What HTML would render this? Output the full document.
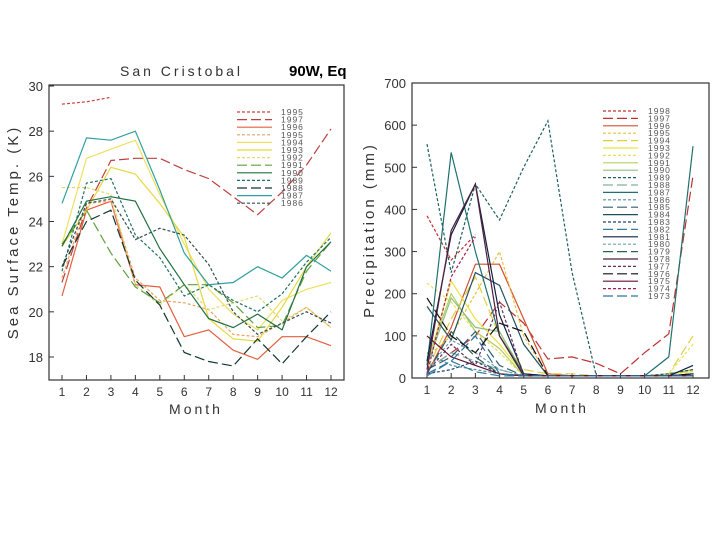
<!DOCTYPE html>
<html><head><meta charset="utf-8"><style>
html,body{margin:0;padding:0;background:#fff;width:720px;height:540px;overflow:hidden}
svg{display:block}
text{font-family:"Liberation Sans",sans-serif}
</style></head><body>
<svg id="s" width="720" height="540" xmlns="http://www.w3.org/2000/svg">
<text x="120" y="76" font-size="14" fill="#333" letter-spacing="3">San Cristobal</text>
<text x="289" y="76" font-size="15" font-weight="bold" fill="#000">90W, Eq</text>
<text transform="translate(18,232) rotate(-90)" text-anchor="middle" font-size="15" fill="#333" letter-spacing="3">Sea Surface Temp. (K)</text>
<text x="196" y="414" text-anchor="middle" font-size="14" fill="#333" letter-spacing="3">Month</text>
<text transform="translate(374,230) rotate(-90)" text-anchor="middle" font-size="15" fill="#333" letter-spacing="3">Precipitation (mm)</text>
<text x="562" y="413" text-anchor="middle" font-size="14" fill="#333" letter-spacing="3">Month</text>
</svg>
<script>
const months=[1,2,3,4,5,6,7,8,9,10,11,12];
const sstTicks=[18,20,22,24,26,28,30];
const prTicks=[0,100,200,300,400,500,600,700];
const sstYears=["1995","1997","1996","1995","1994","1993","1992","1991","1990","1989","1988","1987","1986"];
const sstColors=["#d04040","#c04040","#e06040","#f0a060","#f0e060","#e8d840","#e0d870","#60a040","#207040","#207060","#103830","#30a0a0","#305050"];
const sstDash=["3,2","10,4","","3,2","","","3,2","10,4","","3,2","10,4","","3,2"];
const sstValues=[
[29.2,29.3,29.5,null,null,null,null,null,null,null,null,null],
[21.3,24.6,26.7,26.8,26.8,26.3,25.9,25.1,24.3,25.3,26.5,28.1],
[20.7,24.5,24.9,21.2,21.1,18.9,19.2,18.3,17.9,18.9,18.9,18.5],
[21.5,24.8,24.9,21.5,20.5,20.4,20.1,19.0,18.9,19.5,20.2,19.3],
[23.0,26.8,27.2,27.6,25.2,23.0,21.0,19.9,19.2,20.5,21.0,21.3],
[22.9,24.5,26.4,26.1,24.8,23.3,19.7,18.8,18.7,20.2,22.0,23.5],
[25.5,25.5,25.2,21.2,20.3,21.2,20.1,20.4,20.7,19.6,20.2,19.3],
[23.0,24.5,22.6,21.1,20.4,21.2,21.2,20.4,19.3,19.4,21.8,23.1],
[22.9,24.9,25.1,24.9,22.8,21.2,19.7,19.3,19.9,19.2,22.0,23.1],
[21.8,25.7,25.9,23.4,22.4,20.7,21.2,20.5,20.0,20.8,22.2,23.3],
[22.0,24.0,24.5,21.4,20.3,18.2,17.8,17.6,18.8,17.7,18.9,20.0],
[24.8,27.7,27.6,28.0,25.4,22.6,21.2,21.3,22.0,21.5,22.5,21.8],
[22.0,24.8,25.0,23.2,23.7,23.4,22.1,20.0,19.0,19.5,20.0,19.5]];
const prYears=["1998","1997","1996","1995","1994","1993","1992","1991","1990","1989","1988","1987","1986","1985","1984","1983","1982","1981","1980","1979","1978","1977","1976","1975","1974","1973"];
const prColors=["#c03030","#c03030","#d05030","#e8c040","#e0d040","#f0e040","#e8e060","#b0d060","#90c080","#206060","#80b0a0","#207070","#5090a0","#306070","#205060","#204070","#3080a0","#102040","#70a0b0","#306050","#502040","#603060","#101010","#601030","#a02050","#3070a0"];
const prDash=["3,2","10,4","","3,2","10,4","","3,2","","","3,2","10,4","","3,2","10,4","","3,2","10,4","","3,2","10,4","","3,2","10,4","","3,2","10,4"];
const prValues=[
[385,280,340,null,null,null,null,null,null,null,null,null],
[20,60,100,180,130,45,50,35,10,60,105,480],
[10,120,270,270,140,10,5,5,5,5,10,20],
[50,100,200,300,100,5,5,5,5,5,10,15],
[20,140,240,100,20,10,10,5,5,5,10,100],
[30,230,140,80,10,5,5,5,5,5,10,15],
[225,180,110,60,5,5,5,5,5,5,10,80],
[40,200,110,70,5,5,5,5,5,5,10,20],
[30,190,120,110,10,5,5,5,5,5,5,10],
[555,250,460,375,500,610,250,5,5,5,10,20],
[20,60,40,20,5,5,5,5,5,5,5,10],
[30,535,300,100,10,5,5,5,5,5,50,550],
[60,30,20,10,5,5,5,5,5,5,5,10],
[20,50,110,30,5,5,5,5,5,5,5,10],
[170,90,250,220,80,5,5,5,5,5,5,10],
[10,20,40,10,5,5,5,5,5,5,5,5],
[5,40,15,5,5,5,5,5,5,5,5,5],
[40,340,460,150,10,5,5,5,5,5,5,30],
[20,90,60,20,5,5,5,5,5,5,5,5],
[10,110,50,10,5,5,5,5,5,5,5,5],
[20,350,460,100,5,5,5,5,5,5,5,5],
[15,80,30,180,5,5,5,5,5,5,5,5],
[190,100,60,130,110,5,5,5,5,5,5,10],
[100,50,30,10,5,5,5,5,5,5,5,5],
[10,240,335,null,null,null,null,null,null,null,null,null],
[10,40,100,10,5,5,5,5,5,5,5,5]];

const NS="http://www.w3.org/2000/svg";
const svg=document.getElementById('s');
function el(t,a){const e=document.createElementNS(NS,t);for(const k in a)e.setAttribute(k,a[k]);svg.appendChild(e);return e;}

function chart(pfx,box,ymin,ymax,ticks,vals,cols,dashes,years,leg){
  const sx=m=>box.x1+(m-1)*(box.x12-box.x1)/11;
  const sy=v=>box.yb-(v-ymin)*(box.yb-box.yt)/(ymax-ymin);
  const r=el('rect',{x:box.l,y:box.t,width:box.r-box.l,height:box.b-box.t,fill:'none',stroke:'#333','stroke-width':1.2});
  
  
  ticks.forEach(t=>{
    const y=sy(t);
    const ln=el('line',{x1:box.l,x2:box.l+5,y1:y,y2:y,stroke:'#333'});
    
    
    const tx=el('text',{x:box.l-6,y:y+5,'text-anchor':'end','font-size':13,fill:'#333'});
    tx.textContent=t;
    
    
  });
  months.forEach(m=>{
    const x=sx(m);
    const ln=el('line',{x1:x,x2:x,y1:box.b,y2:box.b-5,stroke:'#333'});
    
    
    const tx=el('text',{x:x,y:box.b+16,'text-anchor':'middle','font-size':12,fill:'#333'});
    tx.textContent=m;
    
    
  });
  vals.forEach((s,i)=>{
    let d='';let pen=false;
    s.forEach((v,j)=>{if(v==null){pen=false;return;}d+=(pen?'L':'M')+sx(months[j]).toFixed(1)+','+sy(v).toFixed(1);pen=true;});
    const p=el('path',{d:d,fill:'none',stroke:cols[i],'stroke-width':1.2,'stroke-dasharray':dashes[i]});
    
    
    const y=leg.y+i*leg.dy;
    const ll=el('line',{x1:leg.x,x2:leg.x+35,y1:y,y2:y,stroke:cols[i],'stroke-width':1.2,'stroke-dasharray':dashes[i]});
    
    
    const lt=el('text',{x:leg.tx,y:y+3,'font-size':8.5,fill:'#555','letter-spacing':1});
    lt.textContent=years[i];
    
    
  });
}
chart('sst',{l:49,r:344,t:85,b:380,x1:62,x12:331,yt:86,yb:357},18,30,sstTicks,sstValues,sstColors,sstDash,sstYears,{x:237,tx:281,y:112,dy:7.6});
chart('precip',{l:412,r:709,t:83,b:378,x1:427,x12:693,yt:83,yb:378},0,700,prTicks,prValues,prColors,prDash,prYears,{x:603,tx:648,y:111,dy:7.4});
</script>
</body></html>
